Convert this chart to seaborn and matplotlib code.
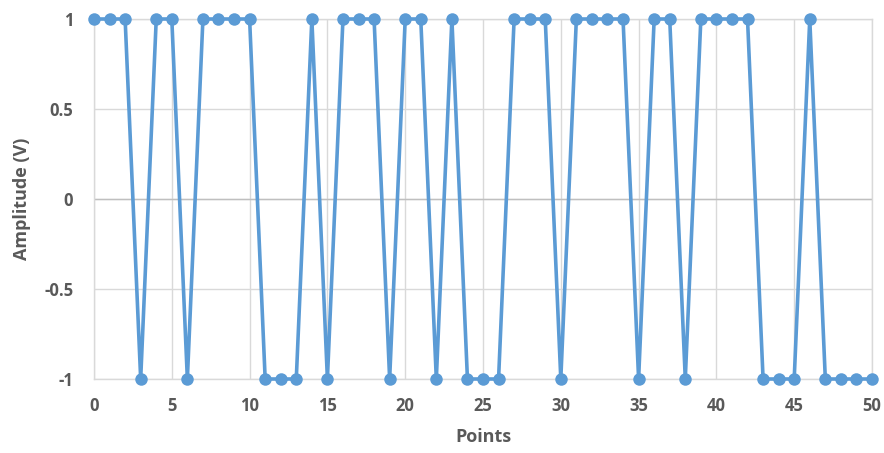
import matplotlib
matplotlib.use("Agg")
import matplotlib.pyplot as plt
import numpy as np
import pandas as pd
import seaborn as sns

# signal samples
points = list(range(51))
amplitude = [1, 1, 1, -1, 1, 1, -1, 1, 1, 1,
             1, -1, -1, -1, 1, -1, 1, 1, 1, -1,
             1, 1, -1, 1, -1, -1, -1, 1, 1, 1,
             -1, 1, 1, 1, 1, -1, 1, 1, -1, 1,
             1, 1, 1, -1, -1, -1, 1, -1, -1, -1,
             -1]
x_ticks = [0, 5, 10, 15, 20, 25, 30, 35, 40, 45, 50]
y_ticks = [-1, -0.5, 0, 0.5, 1]
y_tick_labels = ["-1", "-0.5", "0", "0.5", "1"]

df = pd.DataFrame({"Points": points, "Amplitude": amplitude})

sns.set_style("white")
plt.rcParams['font.family'] = ['Open Sans', 'DejaVu Sans']

fig = plt.figure(figsize=(8.84, 4.53), dpi=100)
ax = fig.add_axes([94 / 884, 74 / 453, 778 / 884, 360 / 453])

grey = "#595959"
ax.set_xlim(0, 50)
ax.set_ylim(-1, 1)
ax.set_xticks(x_ticks)
ax.set_yticks(y_ticks)
ax.set_yticklabels(y_tick_labels)
ax.grid(True, color="#d9d9d9", linewidth=1)
ax.axhline(0, color="#bfbfbf", linewidth=1, zorder=1)
for s in ax.spines.values():
    s.set_color("#d9d9d9")
    s.set_linewidth(1)

sns.lineplot(data=df, x="Points", y="Amplitude", ax=ax, color="#5B9BD5",
             linewidth=2.6, marker="o", markersize=9, markeredgewidth=0,
             clip_on=False, zorder=3)

ax.tick_params(axis="both", length=0, labelsize=12, labelcolor=grey)
ax.tick_params(axis="y", pad=15)
ax.tick_params(axis="x", pad=13)
for lbl in ax.get_xticklabels() + ax.get_yticklabels():
    lbl.set_fontweight("bold")

ax.set_xlabel("Points", fontsize=13, fontweight="bold", color=grey)
ax.set_ylabel("Amplitude (V)", fontsize=13, fontweight="bold", color=grey)
ax.xaxis.set_label_coords(0.5, -49 / 360)
ax.yaxis.set_label_coords(-63 / 778, 0.5)

fig.savefig("out.png", dpi=100)
